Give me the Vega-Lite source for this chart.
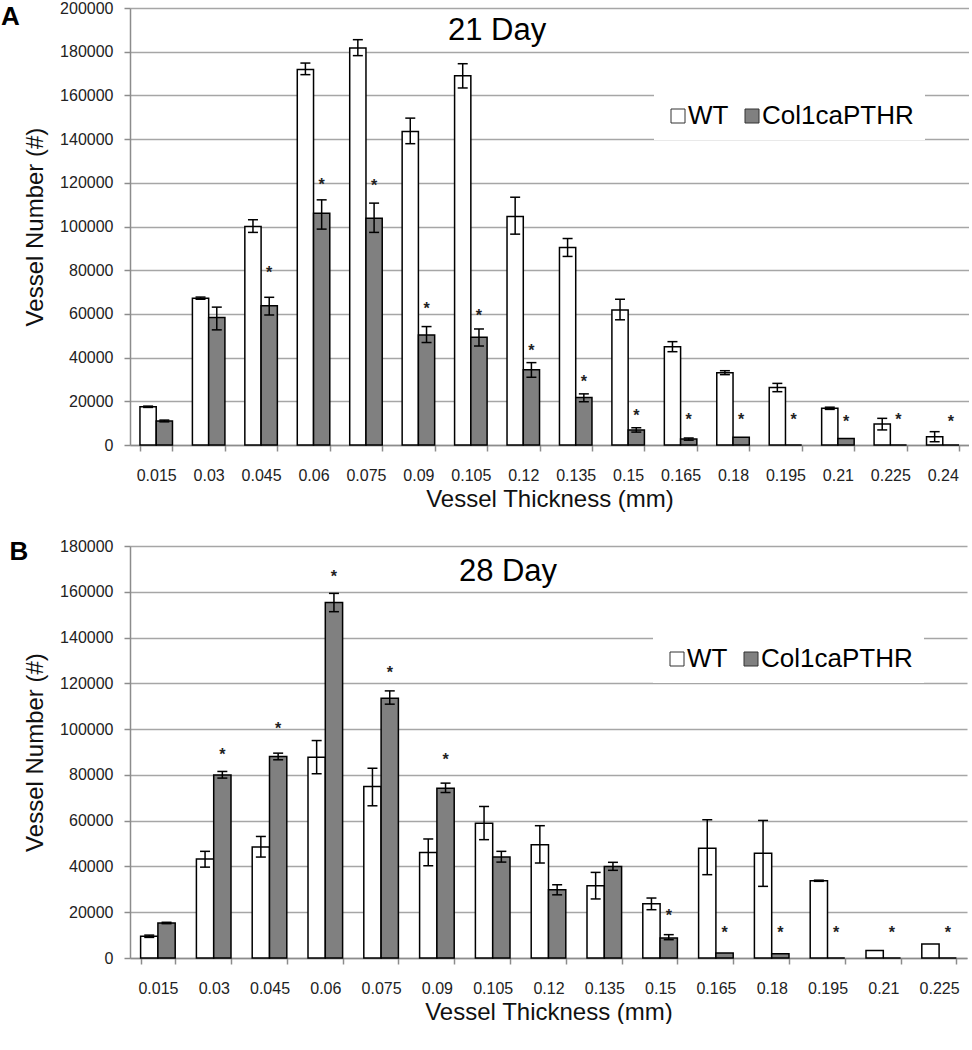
{
  "$schema": "https://vega.github.io/schema/vega-lite/v6.json",
  "padding": 0,
  "background": "white",
  "config": {
    "view": {"stroke": null},
    "font": "Liberation Sans",
    "axis": {
      "labelFont": "Liberation Sans", "labelFontSize": 16, "labelColor": "#222",
      "titleFont": "Liberation Sans", "titleFontSize": 24, "titleFontWeight": "normal", "titleColor": "#111",
      "domainColor": "#8c8c8c", "domainWidth": 1.5, "tickColor": "#8c8c8c", "tickWidth": 1.5, "tickSize": 6,
      "gridColor": "#a6a6a6", "gridWidth": 1.5
    },
    "legend": {"labelFont": "Liberation Sans"}
  },
  "datasets": {
    "d21": [
      {"t": "0.015", "group": "WT", "value": 17500, "lo": 17200, "hi": 17800, "star": null},
      {"t": "0.015", "group": "Col1caPTHR", "value": 11000, "lo": 10600, "hi": 11400, "star": null},
      {"t": "0.03", "group": "WT", "value": 67200, "lo": 66700, "hi": 67700, "star": null},
      {"t": "0.03", "group": "Col1caPTHR", "value": 58300, "lo": 52700, "hi": 63100, "star": null},
      {"t": "0.045", "group": "WT", "value": 100000, "lo": 97300, "hi": 103100, "star": null},
      {"t": "0.045", "group": "Col1caPTHR", "value": 63700, "lo": 59500, "hi": 67600, "star": 80000},
      {"t": "0.06", "group": "WT", "value": 171800, "lo": 169500, "hi": 174800, "star": null},
      {"t": "0.06", "group": "Col1caPTHR", "value": 106100, "lo": 98800, "hi": 112200, "star": 120300},
      {"t": "0.075", "group": "WT", "value": 181700, "lo": 178200, "hi": 185500, "star": null},
      {"t": "0.075", "group": "Col1caPTHR", "value": 103800, "lo": 97300, "hi": 110700, "star": 119800},
      {"t": "0.09", "group": "WT", "value": 143500, "lo": 137900, "hi": 149600, "star": null},
      {"t": "0.09", "group": "Col1caPTHR", "value": 50400, "lo": 46900, "hi": 54200, "star": 63400},
      {"t": "0.105", "group": "WT", "value": 169000, "lo": 163400, "hi": 174500, "star": null},
      {"t": "0.105", "group": "Col1caPTHR", "value": 49300, "lo": 45300, "hi": 53100, "star": 60600},
      {"t": "0.12", "group": "WT", "value": 104600, "lo": 96500, "hi": 113400, "star": null},
      {"t": "0.12", "group": "Col1caPTHR", "value": 34400, "lo": 31000, "hi": 37700, "star": 44300},
      {"t": "0.135", "group": "WT", "value": 90400, "lo": 86300, "hi": 94500, "star": null},
      {"t": "0.135", "group": "Col1caPTHR", "value": 21700, "lo": 19800, "hi": 23400, "star": 30100},
      {"t": "0.15", "group": "WT", "value": 61800, "lo": 57300, "hi": 66700, "star": null},
      {"t": "0.15", "group": "Col1caPTHR", "value": 6900, "lo": 5900, "hi": 7900, "star": 14800},
      {"t": "0.165", "group": "WT", "value": 45000, "lo": 42700, "hi": 47300, "star": null},
      {"t": "0.165", "group": "Col1caPTHR", "value": 2700, "lo": 2200, "hi": 3200, "star": 12700},
      {"t": "0.18", "group": "WT", "value": 33100, "lo": 32200, "hi": 34000, "star": null},
      {"t": "0.18", "group": "Col1caPTHR", "value": 3500, "lo": null, "hi": null, "star": 12700},
      {"t": "0.195", "group": "WT", "value": 26300, "lo": 24400, "hi": 28200, "star": null},
      {"t": "0.195", "group": "Col1caPTHR", "value": 0, "lo": null, "hi": null, "star": 12700},
      {"t": "0.21", "group": "WT", "value": 16800, "lo": 16300, "hi": 17300, "star": null},
      {"t": "0.21", "group": "Col1caPTHR", "value": 3000, "lo": null, "hi": null, "star": 11900},
      {"t": "0.225", "group": "WT", "value": 9600, "lo": 6900, "hi": 12200, "star": null},
      {"t": "0.225", "group": "Col1caPTHR", "value": 0, "lo": null, "hi": null, "star": 12700},
      {"t": "0.24", "group": "WT", "value": 3800, "lo": 1500, "hi": 6100, "star": null},
      {"t": "0.24", "group": "Col1caPTHR", "value": 0, "lo": null, "hi": null, "star": 11900}
    ],
    "d28": [
      {"t": "0.015", "group": "WT", "value": 9500, "lo": 9000, "hi": 10000, "star": null},
      {"t": "0.015", "group": "Col1caPTHR", "value": 15300, "lo": 15000, "hi": 15600, "star": null},
      {"t": "0.03", "group": "WT", "value": 43200, "lo": 39700, "hi": 46600, "star": null},
      {"t": "0.03", "group": "Col1caPTHR", "value": 80000, "lo": 78600, "hi": 81500, "star": 89800},
      {"t": "0.045", "group": "WT", "value": 48500, "lo": 44100, "hi": 53100, "star": null},
      {"t": "0.045", "group": "Col1caPTHR", "value": 88000, "lo": 86600, "hi": 89500, "star": 101400},
      {"t": "0.06", "group": "WT", "value": 87700, "lo": 80500, "hi": 95000, "star": null},
      {"t": "0.06", "group": "Col1caPTHR", "value": 155300, "lo": 151300, "hi": 159300, "star": 167600},
      {"t": "0.075", "group": "WT", "value": 74900, "lo": 66500, "hi": 82900, "star": null},
      {"t": "0.075", "group": "Col1caPTHR", "value": 113500, "lo": 110900, "hi": 116700, "star": 125900},
      {"t": "0.09", "group": "WT", "value": 46100, "lo": 40300, "hi": 52000, "star": null},
      {"t": "0.09", "group": "Col1caPTHR", "value": 74200, "lo": 72300, "hi": 76400, "star": 87700},
      {"t": "0.105", "group": "WT", "value": 58900, "lo": 51700, "hi": 66200, "star": null},
      {"t": "0.105", "group": "Col1caPTHR", "value": 44100, "lo": 41900, "hi": 46600, "star": null},
      {"t": "0.12", "group": "WT", "value": 49500, "lo": 41500, "hi": 57800, "star": null},
      {"t": "0.12", "group": "Col1caPTHR", "value": 29800, "lo": 27600, "hi": 32000, "star": null},
      {"t": "0.135", "group": "WT", "value": 31600, "lo": 25800, "hi": 37400, "star": null},
      {"t": "0.135", "group": "Col1caPTHR", "value": 40000, "lo": 38300, "hi": 41800, "star": null},
      {"t": "0.15", "group": "WT", "value": 23700, "lo": 21100, "hi": 26200, "star": null},
      {"t": "0.15", "group": "Col1caPTHR", "value": 8700, "lo": 8000, "hi": 10200, "star": 19600},
      {"t": "0.165", "group": "WT", "value": 48000, "lo": 36400, "hi": 60400, "star": null},
      {"t": "0.165", "group": "Col1caPTHR", "value": 2200, "lo": null, "hi": null, "star": 12400},
      {"t": "0.18", "group": "WT", "value": 45800, "lo": 31300, "hi": 60100, "star": null},
      {"t": "0.18", "group": "Col1caPTHR", "value": 1900, "lo": null, "hi": null, "star": 12400},
      {"t": "0.195", "group": "WT", "value": 33800, "lo": 33500, "hi": 34000, "star": null},
      {"t": "0.195", "group": "Col1caPTHR", "value": 0, "lo": null, "hi": null, "star": 12400},
      {"t": "0.21", "group": "WT", "value": 3300, "lo": null, "hi": null, "star": null},
      {"t": "0.21", "group": "Col1caPTHR", "value": 0, "lo": null, "hi": null, "star": 12400},
      {"t": "0.225", "group": "WT", "value": 6100, "lo": null, "hi": null, "star": null},
      {"t": "0.225", "group": "Col1caPTHR", "value": 0, "lo": null, "hi": null, "star": 12400}
    ]
  },
  "bounds": "flush",
  "spacing": 101,
  "resolve": {
    "scale": {"x": "independent", "y": "independent", "xOffset": "independent", "fill": "independent"},
    "legend": {"fill": "independent"},
    "axis": {"x": "independent", "y": "independent"}
  },
  "vconcat": [
    {
      "width": 839,
      "height": 437,
      "data": {"name": "d21"},
      "encoding": {
        "x": {"field": "t", "type": "ordinal", "sort": null,
          "scale": {"paddingInner": 0.38, "paddingOuter": 0.19},
          "axis": {"title": "Vessel Thickness (mm)", "labelAngle": 0, "tickBand": "extent", "labelPadding": 16, "titlePadding": 4, "grid": false}}
      },
      "layer": [
        {
          "mark": {"type": "bar", "stroke": "black", "strokeWidth": 1.5},
          "encoding": {
            "xOffset": {"field": "group", "type": "nominal", "sort": ["WT", "Col1caPTHR"], "scale": {"paddingInner": 0, "paddingOuter": 0}},
            "y": {"field": "value", "type": "quantitative", "title": "Vessel Number (#)",
              "scale": {"domain": [0, 200000], "nice": false},
              "axis": {"values": [0, 20000, 40000, 60000, 80000, 100000, 120000, 140000, 160000, 180000, 200000], "format": "d", "labelPadding": 11, "titlePadding": 12, "grid": true}},
            "fill": {"field": "group", "type": "nominal", "sort": ["WT", "Col1caPTHR"],
              "scale": {"domain": ["WT", "Col1caPTHR"], "range": ["white", "#808080"]},
              "legend": {"title": null, "orient": "none", "legendX": 524, "legendY": 84, "direction": "horizontal", "symbolType": "square", "symbolSize": 196, "symbolStrokeColor": "#333", "symbolStrokeWidth": 1, "labelFontSize": 26, "labelColor": "black", "labelOffset": -3, "columnPadding": 10, "padding": 11, "fillColor": "white", "zindex": 1}}
          }
        },
        {
          "transform": [{"filter": "datum.lo != null"}],
          "mark": {"type": "rule", "color": "black", "strokeWidth": 1.5},
          "encoding": {
            "xOffset": {"field": "group", "type": "nominal", "sort": ["WT", "Col1caPTHR"]},
            "y": {"field": "lo", "type": "quantitative", "title": "Vessel Number (#)"},
            "y2": {"field": "hi"}
          }
        },
        {
          "transform": [{"filter": "datum.lo != null"}],
          "mark": {"type": "tick", "color": "black", "thickness": 1.5, "size": 10, "opacity": 1},
          "encoding": {
            "xOffset": {"field": "group", "type": "nominal", "sort": ["WT", "Col1caPTHR"]},
            "y": {"field": "lo", "type": "quantitative", "title": "Vessel Number (#)"}
          }
        },
        {
          "transform": [{"filter": "datum.hi != null"}],
          "mark": {"type": "tick", "color": "black", "thickness": 1.5, "size": 10, "opacity": 1},
          "encoding": {
            "xOffset": {"field": "group", "type": "nominal", "sort": ["WT", "Col1caPTHR"]},
            "y": {"field": "hi", "type": "quantitative", "title": "Vessel Number (#)"}
          }
        },
        {
          "transform": [{"filter": "datum.star != null"}],
          "mark": {"type": "text", "text": "*", "fontSize": 16, "fontWeight": "bold", "color": "#222", "baseline": "middle", "dy": 3},
          "encoding": {
            "xOffset": {"field": "group", "type": "nominal", "sort": ["WT", "Col1caPTHR"]},
            "y": {"field": "star", "type": "quantitative", "title": "Vessel Number (#)"}
          }
        },
        {
          "data": {"values": [{"label": "21 Day"}]},
          "mark": {"type": "text", "fontSize": 31, "font": "Liberation Sans", "align": "center", "baseline": "alphabetic", "dx": 10, "color": "black"},
          "encoding": {
            "x": {"datum": "0.105", "type": "ordinal", "bandPosition": 1},
            "y": {"datum": 185300, "type": "quantitative"},
            "text": {"field": "label"}
          }
        },
        {
          "data": {"values": [{"label": "A"}]},
          "mark": {"type": "text", "fontSize": 26, "fontWeight": "bold", "font": "Liberation Sans", "align": "left", "baseline": "alphabetic", "dx": -139, "color": "black"},
          "encoding": {
            "x": {"datum": "0.015", "type": "ordinal", "bandPosition": 0},
            "y": {"datum": 192200, "type": "quantitative"},
            "text": {"field": "label"}
          }
        }
      ]
    },
    {
      "width": 837,
      "height": 412,
      "data": {"name": "d28"},
      "encoding": {
        "x": {"field": "t", "type": "ordinal", "sort": null,
          "scale": {"paddingInner": 0.38, "paddingOuter": 0.19},
          "axis": {"title": "Vessel Thickness (mm)", "labelAngle": 0, "tickBand": "extent", "labelPadding": 16, "titlePadding": 4, "grid": false}}
      },
      "layer": [
        {
          "mark": {"type": "bar", "stroke": "black", "strokeWidth": 1.5},
          "encoding": {
            "xOffset": {"field": "group", "type": "nominal", "sort": ["WT", "Col1caPTHR"], "scale": {"paddingInner": 0, "paddingOuter": 0}},
            "y": {"field": "value", "type": "quantitative", "title": "Vessel Number (#)",
              "scale": {"domain": [0, 180000], "nice": false},
              "axis": {"values": [0, 20000, 40000, 60000, 80000, 100000, 120000, 140000, 160000, 180000], "format": "d", "labelPadding": 11, "titlePadding": 12, "grid": true}},
            "fill": {"field": "group", "type": "nominal", "sort": ["WT", "Col1caPTHR"],
              "scale": {"domain": ["WT", "Col1caPTHR"], "range": ["white", "#808080"]},
              "legend": {"title": null, "orient": "none", "legendX": 523, "legendY": 89, "direction": "horizontal", "symbolType": "square", "symbolSize": 196, "symbolStrokeColor": "#333", "symbolStrokeWidth": 1, "labelFontSize": 26, "labelColor": "black", "labelOffset": -3, "columnPadding": 10, "padding": 11, "fillColor": "white", "zindex": 1}}
          }
        },
        {
          "transform": [{"filter": "datum.lo != null"}],
          "mark": {"type": "rule", "color": "black", "strokeWidth": 1.5},
          "encoding": {
            "xOffset": {"field": "group", "type": "nominal", "sort": ["WT", "Col1caPTHR"]},
            "y": {"field": "lo", "type": "quantitative", "title": "Vessel Number (#)"},
            "y2": {"field": "hi"}
          }
        },
        {
          "transform": [{"filter": "datum.lo != null"}],
          "mark": {"type": "tick", "color": "black", "thickness": 1.5, "size": 10, "opacity": 1},
          "encoding": {
            "xOffset": {"field": "group", "type": "nominal", "sort": ["WT", "Col1caPTHR"]},
            "y": {"field": "lo", "type": "quantitative", "title": "Vessel Number (#)"}
          }
        },
        {
          "transform": [{"filter": "datum.hi != null"}],
          "mark": {"type": "tick", "color": "black", "thickness": 1.5, "size": 10, "opacity": 1},
          "encoding": {
            "xOffset": {"field": "group", "type": "nominal", "sort": ["WT", "Col1caPTHR"]},
            "y": {"field": "hi", "type": "quantitative", "title": "Vessel Number (#)"}
          }
        },
        {
          "transform": [{"filter": "datum.star != null"}],
          "mark": {"type": "text", "text": "*", "fontSize": 16, "fontWeight": "bold", "color": "#222", "baseline": "middle", "dy": 3},
          "encoding": {
            "xOffset": {"field": "group", "type": "nominal", "sort": ["WT", "Col1caPTHR"]},
            "y": {"field": "star", "type": "quantitative", "title": "Vessel Number (#)"}
          }
        },
        {
          "data": {"values": [{"label": "28 Day"}]},
          "mark": {"type": "text", "fontSize": 31, "font": "Liberation Sans", "align": "center", "baseline": "alphabetic", "dx": -2, "color": "black"},
          "encoding": {
            "x": {"datum": "0.105", "type": "ordinal", "bandPosition": 1},
            "y": {"datum": 164600, "type": "quantitative"},
            "text": {"field": "label"}
          }
        },
        {
          "data": {"values": [{"label": "B"}]},
          "mark": {"type": "text", "fontSize": 26, "fontWeight": "bold", "font": "Liberation Sans", "align": "left", "baseline": "alphabetic", "dx": -131, "color": "black"},
          "encoding": {
            "x": {"datum": "0.015", "type": "ordinal", "bandPosition": 0},
            "y": {"datum": 173900, "type": "quantitative"},
            "text": {"field": "label"}
          }
        }
      ]
    }
  ]
}
